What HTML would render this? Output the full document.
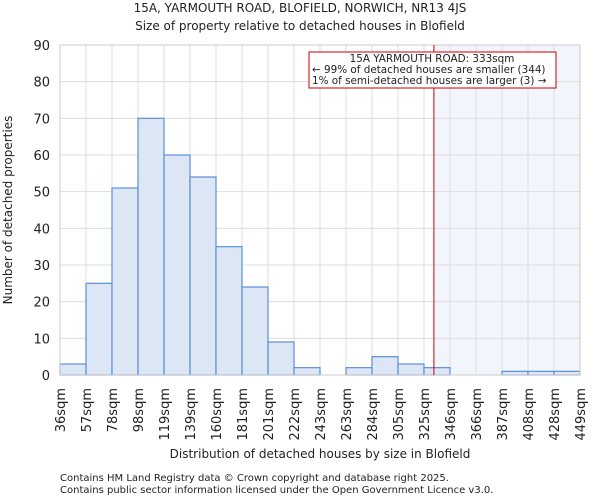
<!DOCTYPE html>
<html><head><meta charset="utf-8"><style>
body{margin:0;background:#fff;font-family:"DejaVu Sans","Liberation Sans",sans-serif;}
svg text{font-family:"DejaVu Sans","Liberation Sans",sans-serif;fill:#222;}
</style></head><body>
<svg id="c" width="600" height="500" viewBox="0 0 600 500">
<text x="300" y="12" text-anchor="middle" font-size="12">15A, YARMOUTH ROAD, BLOFIELD, NORWICH, NR13 4JS</text>
<text x="300" y="30" text-anchor="middle" font-size="12">Size of property relative to detached houses in Blofield</text>
<text x="320" y="458" text-anchor="middle" font-size="12">Distribution of detached houses by size in Blofield</text>
<text transform="translate(12,210) rotate(-90)" text-anchor="middle" font-size="12">Number of detached properties</text>
<text x="60" y="481" font-size="10" fill="#444">Contains HM Land Registry data © Crown copyright and database right 2025.</text>
<text x="60" y="493" font-size="10" fill="#444">Contains public sector information licensed under the Open Government Licence v3.0.</text>
</svg>
<script>
const labels=["36sqm","57sqm","78sqm","98sqm","119sqm","139sqm","160sqm","181sqm","201sqm","222sqm","243sqm","263sqm","284sqm","305sqm","325sqm","346sqm","366sqm","387sqm","408sqm","428sqm","449sqm"];
const counts=[3,25,51,70,60,54,35,24,9,2,0,2,5,3,2,0,0,1,1,1];
const yTicks=[0,10,20,30,40,50,60,70,80,90];
const subjectSize=333;
const edges=[36,57,78,98,119,139,160,181,201,222,243,263,284,305,325,346,366,387,408,428,449];
const svg=document.getElementById('c');const NS='http://www.w3.org/2000/svg';
const X0=60,X1=580,Y0=375,Y1=45;
const bw=(X1-X0)/counts.length;
const y=v=>Y0-(v/90)*(Y0-Y1);
function xs(s){let i=0;while(i<edges.length-2&&s>edges[i+1])i++;return X0+(i+(s-edges[i])/(edges[i+1]-edges[i]))*bw;}
function mk(t,a){const e=document.createElementNS(NS,t);for(const k in a)e.setAttribute(k,a[k]);svg.appendChild(e);return e;}
const sx=xs(subjectSize);
let e=mk('rect',{x:sx,y:Y1,width:X1-sx,height:Y0-Y1,fill:'#f3f5fc'});


yTicks.forEach(t=>{const g=mk('line',{x1:X0,x2:X1,y1:y(t),y2:y(t),stroke:'#ddd'});


const tx=mk('text',{x:X0-10,y:y(t)+5,'text-anchor':'end','font-size':13});tx.textContent=t;

});
labels.forEach((l,i)=>{const xx=X0+i*bw;const g=mk('line',{x1:xx,x2:xx,y1:Y1,y2:Y0,stroke:'#ddd'});


const tx=mk('text',{transform:`translate(${xx+5},388) rotate(-90)`,'text-anchor':'end','font-size':13});tx.textContent=l;

});
counts.forEach((c,i)=>{if(c<=0)return;const r=mk('rect',{x:X0+i*bw,y:y(c),width:bw,height:Y0-y(c),fill:'#dde6f4',stroke:'#5b8fd9','stroke-width':1.2});

});
e=mk('rect',{x:X0,y:Y1,width:X1-X0,height:Y0-Y1,fill:'none',stroke:'#ccc'});


e=mk('line',{x1:sx,x2:sx,y1:Y1,y2:Y0,stroke:'#cc0000','stroke-width':1});


e=mk('rect',{x:309,y:52,width:247,height:36,fill:'#fff',stroke:'#cc0000'});


[["15A YARMOUTH ROAD: 333sqm",62,'middle',432],["← 99% of detached houses are smaller (344)",73,'start',312],["1% of semi-detached houses are larger (3) →",84,'start',312]].forEach(a=>{const t=mk('text',{x:a[3],y:a[1],'text-anchor':a[2],'font-size':10.4});t.textContent=a[0];

});
</script>
</body></html>
